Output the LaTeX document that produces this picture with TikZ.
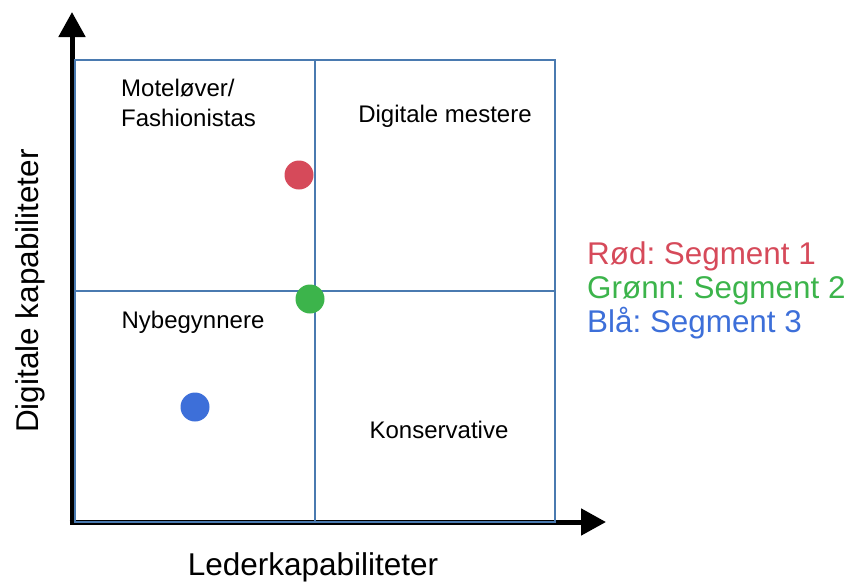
\documentclass[tikz,border=0pt]{standalone}
\usepackage{fontspec}
\setmainfont{Liberation Sans}
\frenchspacing
\usetikzlibrary{arrows.meta}
\definecolor{gridblue}{HTML}{4A7AB0}
\definecolor{segred}{HTML}{D64A5A}
\definecolor{seggreen}{HTML}{3CB44B}
\definecolor{segblue}{HTML}{3D6FD9}
\begin{document}
\begin{tikzpicture}[x=1pt,y=-1pt,
  axis/.style={line width=5pt,-{Triangle[length=25pt,width=26pt]}},
  gridline/.style={draw=gridblue,line width=1.5pt},
  quadlabel/.style={font=\fontsize{24}{30}\selectfont,inner sep=0pt},
  axislabel/.style={font=\fontsize{31.5}{36}\selectfont,inner sep=0pt},
  legend/.style={font=\fontsize{31.4}{34}\selectfont,inner sep=0pt,anchor=west},
  dot/.style={circle,inner sep=0pt,minimum size=29pt}]
\useasboundingbox (0,0) rectangle (848,581);
% axes
\coordinate (origin) at (72,522);
\coordinate (ytip) at (72,12);
\coordinate (xtip) at (606,522);
\draw[axis] (72,524.5) -- (ytip);
\draw[axis] (69.5,522) -- (xtip);
% quadrant grid
\coordinate (gridNW) at (75,60);
\coordinate (gridSE) at (555,522);
\draw[gridline] (gridNW) rectangle (gridSE);
\draw[gridline] (315,60) -- (315,522);
\draw[gridline] (75,291) -- (555,291);
% quadrant labels
\node[quadlabel,anchor=west,align=left] (q1) at (121,103) {Moteløver/\\Fashionistas};
\node[quadlabel] (q2) at (445,116) {Digitale mestere};
\node[quadlabel] (q3) at (193,322) {Nybegynnere};
\node[quadlabel] (q4) at (439,430) {Konservative};
% segment markers
\node[dot,fill=segred] (s1) at (299,175) {};
\node[dot,fill=seggreen] (s2) at (310,299) {};
\node[dot,fill=segblue] (s3) at (195,407) {};
% legend
\node[legend,text=segred] (l1) at (587,256) {Rød: Segment 1};
\node[legend,text=seggreen] (l2) at (587,291) {Grønn: Segment 2};
\node[legend,text=segblue] (l3) at (587,323) {Blå: Segment 3};
% axis titles
\node[axislabel] (xlab) at (313,567) {Lederkapabiliteter};
\node[axislabel,rotate=90] (ylab) at (30,291) {Digitale kapabiliteter};
\end{tikzpicture}
\end{document}
